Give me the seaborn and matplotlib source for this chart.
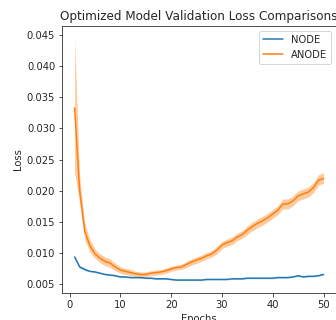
import numpy as np
import pandas as pd
import matplotlib
matplotlib.use("Agg")
import matplotlib.pyplot as plt
import seaborn as sns

epochs = list(range(1, 51))

node_loss = [0.0094, 0.0078, 0.0074, 0.0071, 0.0070, 0.0068, 0.0066, 0.0065, 0.0064, 0.0062,
             0.0062, 0.0061, 0.0061, 0.0061, 0.0060, 0.0060, 0.0059, 0.0059, 0.0059, 0.0058,
             0.0057, 0.0057, 0.0057, 0.0057, 0.0057, 0.0057, 0.0058, 0.0058, 0.0058, 0.0058,
             0.0058, 0.0059, 0.0059, 0.0059, 0.0060, 0.0060, 0.0060, 0.0060, 0.0060, 0.0060,
             0.0061, 0.0061, 0.0061, 0.0062, 0.0064, 0.0062, 0.0063, 0.0063, 0.0064, 0.0066]
node_err = [0.0002] * 3 + [0.0001] * 47

anode_loss = [0.0333, 0.0200, 0.0135, 0.0112, 0.0099, 0.0092, 0.0087, 0.0084, 0.0078, 0.0073,
              0.0071, 0.0069, 0.0067, 0.0066, 0.0066, 0.0068, 0.0069, 0.0070, 0.0072, 0.0075,
              0.0077, 0.0078, 0.0082, 0.0086, 0.0089, 0.0092, 0.0096, 0.0099, 0.0105, 0.0113,
              0.0117, 0.0120, 0.0126, 0.0130, 0.0137, 0.0143, 0.0148, 0.0152, 0.0157, 0.0163,
              0.0169, 0.0179, 0.0179, 0.0184, 0.0192, 0.0195, 0.0198, 0.0205, 0.0217, 0.0220]
anode_lo = [0.0230, 0.0180, 0.0122, 0.0102, 0.0092, 0.0085, 0.0080, 0.0077, 0.0072, 0.0068,
            0.0066, 0.0064, 0.0063, 0.0062, 0.0062, 0.0064, 0.0065, 0.0066, 0.0068, 0.0071,
            0.0073, 0.0074, 0.0077, 0.0081, 0.0084, 0.0087, 0.0091, 0.0094, 0.0099, 0.0107,
            0.0111, 0.0114, 0.0120, 0.0124, 0.0130, 0.0136, 0.0141, 0.0145, 0.0150, 0.0156,
            0.0162, 0.0171, 0.0171, 0.0176, 0.0184, 0.0187, 0.0190, 0.0197, 0.0209, 0.0212]
anode_hi = [0.0445, 0.0222, 0.0148, 0.0122, 0.0107, 0.0099, 0.0094, 0.0091, 0.0084, 0.0078,
            0.0076, 0.0074, 0.0071, 0.0070, 0.0070, 0.0072, 0.0073, 0.0074, 0.0076, 0.0079,
            0.0081, 0.0082, 0.0087, 0.0091, 0.0094, 0.0097, 0.0101, 0.0104, 0.0111, 0.0119,
            0.0123, 0.0126, 0.0132, 0.0136, 0.0144, 0.0150, 0.0155, 0.0159, 0.0164, 0.0170,
            0.0176, 0.0187, 0.0187, 0.0192, 0.0200, 0.0203, 0.0206, 0.0213, 0.0226, 0.0229]

sns.set_style("ticks")
plt.rcParams['font.family'] = ['DejaVu Sans']
plt.rcParams['font.size'] = 10

df = pd.DataFrame({
    'Epochs': epochs * 2,
    'Loss': node_loss + anode_loss,
    'model': ['NODE'] * 50 + ['ANODE'] * 50,
})

fig = plt.figure(figsize=(336 / 72, 320 / 72), dpi=72)
ax = fig.add_axes([0.185, 0.085, 0.815, 0.834])
colors = sns.color_palette()[:2]
sns.lineplot(data=df, x='Epochs', y='Loss', hue='model', palette=colors, ax=ax, lw=1.5)

node_arr = np.array(node_loss)
ax.fill_between(epochs, node_arr - np.array(node_err), node_arr + np.array(node_err),
                color=colors[0], alpha=0.3, lw=0)
ax.fill_between(epochs, anode_lo, anode_hi, color=colors[1], alpha=0.4, lw=0)

ax.set_title("Optimized Model Validation Loss Comparisons", fontsize=12)
ax.set_xlabel("Epochs", fontsize=10)
ax.set_ylabel("Loss", fontsize=10)
ax.set_xticks([0, 10, 20, 30, 40, 50])
ax.set_yticks([0.005, 0.010, 0.015, 0.020, 0.025, 0.030, 0.035, 0.040, 0.045])
ax.tick_params(labelsize=10)
ax.legend(title=None, loc='upper right')

fig.savefig("out.png", dpi=72)
